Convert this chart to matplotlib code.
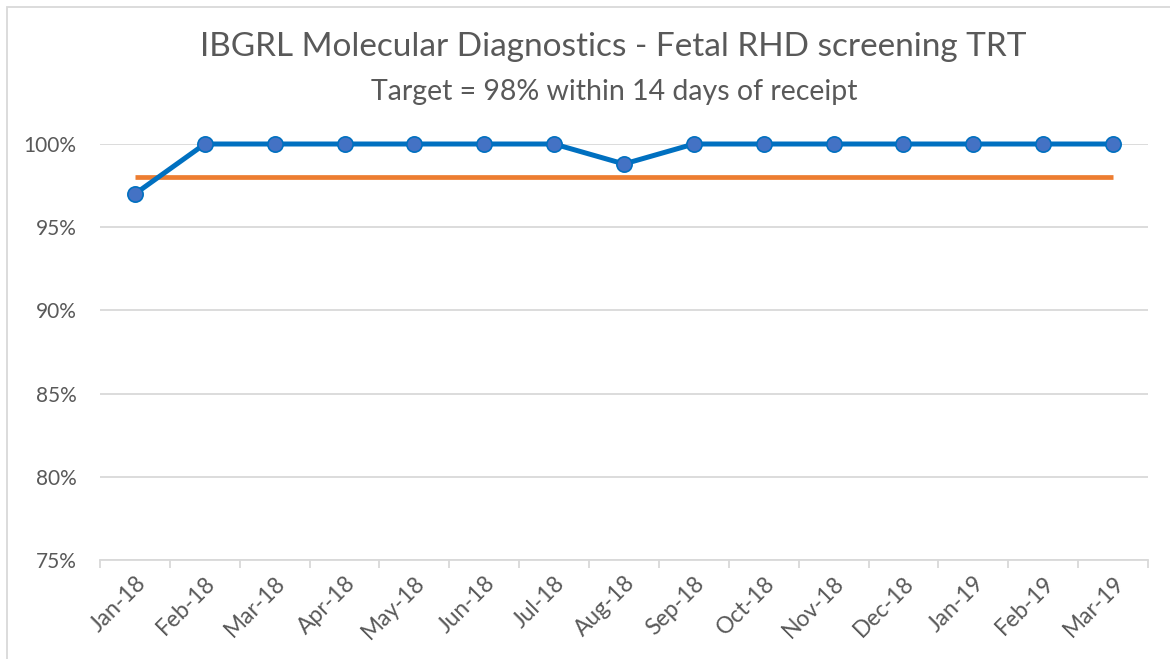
import matplotlib
matplotlib.use('Agg')
import matplotlib.pyplot as plt
from matplotlib.patches import Rectangle

plt.rcParams['font.family'] = ['Lato', 'DejaVu Sans']

# data
months = ['Jan-18', 'Feb-18', 'Mar-18', 'Apr-18', 'May-18', 'Jun-18', 'Jul-18',
          'Aug-18', 'Sep-18', 'Oct-18', 'Nov-18', 'Dec-18', 'Jan-19', 'Feb-19', 'Mar-19']
trt = [97.0, 100, 100, 100, 100, 100, 100, 98.8, 100, 100, 100, 100, 100, 100, 100]
target = [98] * len(months)

text_col = '#595959'
grid_col = '#D9D9D9'

fig = plt.figure(figsize=(11.7, 6.59), dpi=100)
ax = fig.add_axes([100 / 1170, 1 - 560 / 659, 1048 / 1170, 416 / 659])

x = list(range(len(months)))
ax.plot(x, target, color='#ED7D31', lw=3.4, solid_capstyle='butt', zorder=3)
ax.plot(x, trt, color='#0070C0', lw=3.6, marker='o', markersize=11,
        markerfacecolor='#4472C4', markeredgecolor='#0070C0', markeredgewidth=1.2,
        zorder=4, clip_on=False)

ax.set_xlim(-0.5, len(months) - 0.5)
ax.set_ylim(75, 100)
ax.set_yticks([75, 80, 85, 90, 95, 100])
ax.set_yticklabels([f'{v}%' for v in [75, 80, 85, 90, 95, 100]])
ax.yaxis.grid(True, color=grid_col, lw=1.3)
ax.set_axisbelow(True)

# category ticks between months, labels at centres
ax.set_xticks([i - 0.5 for i in range(len(months) + 1)])
ax.set_xticklabels([])
ax.set_xticks(x, minor=True)
ax.set_xticklabels(months, minor=True, rotation=45, ha='right', va='top',
                   rotation_mode='anchor', color=text_col, fontsize=16.5)
ax.tick_params(axis='x', which='major', length=6, color=grid_col, width=1.3)
ax.tick_params(axis='x', which='minor', length=0, pad=9)
ax.tick_params(axis='y', length=0, labelcolor=text_col, labelsize=15, pad=17)

for s in ['top', 'right', 'left']:
    ax.spines[s].set_visible(False)
ax.spines['bottom'].set_color(grid_col)
ax.spines['bottom'].set_linewidth(1.3)

fig.text(613 / 1170, 1 - 47 / 659, 'IBGRL Molecular Diagnostics - Fetal RHD screening TRT',
         ha='center', va='center', fontsize=24, color=text_col)
fig.text(614 / 1170, 1 - 92 / 659, 'Target = 98% within 14 days of receipt',
         ha='center', va='center', fontsize=20.5, color=text_col)

# chart border
fig.patches.append(Rectangle((6.5 / 1170, -0.1), 1.2, 1 - 7 / 659 + 0.1,
                             transform=fig.transFigure, fill=False,
                             edgecolor=grid_col, lw=1.3))

fig.savefig('out.png', dpi=100)
